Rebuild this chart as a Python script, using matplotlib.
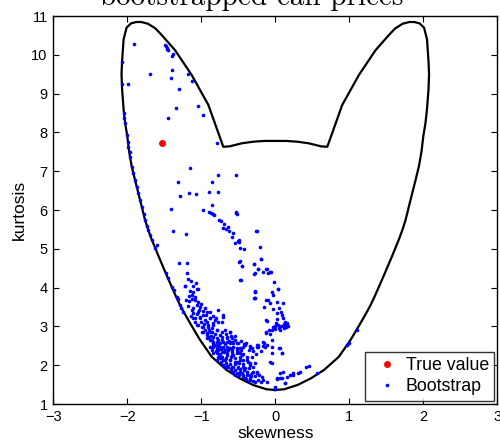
import matplotlib
matplotlib.use('Agg')
import matplotlib.pyplot as plt
import numpy as np

#========================================================================
# dados
#========================================================================

# fronteira (skewness, kurtosis) - curva fechada
boundary = [(0.0, 1.36), (0.12, 1.38), (0.30, 1.49), (0.48, 1.66), (0.66, 1.88), (0.86, 2.22),
            (1.02, 2.66), (1.15, 3.08), (1.24, 3.38), (1.29, 3.56), (1.33, 3.72), (1.40, 4.02),
            (1.48, 4.37), (1.58, 4.82), (1.67, 5.24), (1.72, 5.50), (1.76, 5.74), (1.805, 6.09),
            (1.85, 6.43), (1.895, 6.77), (1.94, 7.12), (1.975, 7.50), (2.00, 7.90), (2.03, 8.25),
            (2.05, 8.60), (2.07, 9.10), (2.078, 9.50), (2.07, 9.85), (2.05, 10.40), (2.01, 10.70),
            (1.95, 10.81), (1.88, 10.845), (1.81, 10.845), (1.72, 10.80), (1.62, 10.68), (1.535, 10.51),
            (1.355, 10.12), (1.13, 9.48), (0.905, 8.71), (0.703, 7.63), (0.62, 7.64), (0.45, 7.72),
            (0.30, 7.76), (0.15, 7.78), (0.0, 7.78),
            (-0.15, 7.78), (-0.30, 7.76), (-0.45, 7.72), (-0.62, 7.64), (-0.703, 7.63), (-0.905, 8.71),
            (-1.13, 9.48), (-1.355, 10.12), (-1.535, 10.51), (-1.62, 10.68), (-1.72, 10.80), (-1.81, 10.845),
            (-1.88, 10.845), (-1.95, 10.81), (-2.01, 10.70), (-2.05, 10.40), (-2.07, 9.85), (-2.078, 9.50),
            (-2.07, 9.10), (-2.05, 8.60), (-2.03, 8.25), (-2.00, 7.90), (-1.975, 7.50), (-1.94, 7.12),
            (-1.895, 6.77), (-1.85, 6.43), (-1.805, 6.09), (-1.76, 5.74), (-1.72, 5.50), (-1.67, 5.24),
            (-1.58, 4.82), (-1.48, 4.37), (-1.40, 4.02), (-1.33, 3.72), (-1.29, 3.56), (-1.24, 3.38),
            (-1.15, 3.08), (-1.02, 2.66), (-0.86, 2.22), (-0.66, 1.88), (-0.48, 1.66), (-0.30, 1.49),
            (-0.12, 1.38), (0.0, 1.36)]

true_value = (-1.527, 7.72)

# bootstrap - lobulo superior
boot_upper = [(-1.905, 10.28), (-1.49, 10.25), (-1.48, 10.22), (-1.47, 10.18), (-1.46, 10.15), (-1.45, 10.12),
              (-1.378, 10.01), (-1.39, 9.98), (-2.07, 9.82), (-1.693, 9.51), (-1.39, 9.62), (-1.413, 9.39),
              (-1.176, 9.51), (-1.12, 9.33), (-2.076, 9.24), (-1.986, 9.24), (-1.30, 9.13), (-1.346, 8.62),
              (-1.045, 8.67), (-0.973, 8.44), (-1.454, 8.36), (-0.788, 7.73)]

# bootstrap - sobre a borda esquerda
boot_edge = [(-2.04, 8.49), (-2.045, 8.36), (-2.03, 8.23), (-2.01, 7.93), (-1.995, 7.76), (-1.986, 7.63),
             (-1.97, 7.50), (-1.96, 7.36), (-1.94, 7.12), (-1.92, 6.95), (-1.896, 6.77), (-1.87, 6.60),
             (-1.85, 6.43), (-1.83, 6.25), (-1.805, 6.09), (-1.78, 5.90), (-1.76, 5.74), (-1.74, 5.60),
             (-1.716, 5.48), (-1.69, 5.35), (-1.67, 5.23), (-1.63, 5.02), (-1.60, 5.10), (-1.477, 4.37),
             (-1.45, 4.25), (-1.40, 4.02), (-1.37, 3.93), (-1.332, 3.77), (-1.31, 3.70), (-1.288, 3.55),
             (-1.27, 3.48), (-1.243, 3.38)]

# bootstrap - regiao do meio
boot_middle = [(-1.149, 7.07), (-0.77, 6.89), (-0.531, 6.89), (-1.31, 6.71), (-0.851, 6.71), (-1.162, 6.44),
               (-1.076, 6.40), (-1.292, 6.37), (-0.892, 6.46), (-0.778, 6.46), (-0.851, 6.14), (-1.405, 6.03),
               (-0.973, 5.99), (-0.892, 5.94), (-0.869, 5.92), (-0.846, 5.89), (-0.824, 5.86), (-0.527, 5.92),
               (-0.535, 5.94), (-0.52, 5.90), (-0.765, 5.75), (-0.738, 5.71), (-0.689, 5.64), (-0.643, 5.55),
               (-0.703, 5.54), (-0.666, 5.50), (-0.622, 5.47), (-0.576, 5.41), (-0.585, 5.30), (-0.504, 5.20),
               (-0.486, 5.18), (-0.549, 5.15), (-0.495, 5.22), (-0.257, 5.47), (-0.207, 5.05), (-0.419, 4.99),
               (-1.382, 5.45), (-1.21, 5.39), (-0.193, 4.74), (-0.481, 4.69), (-0.45, 4.56), (-0.284, 4.61),
               (-0.238, 4.49), (-0.126, 4.47), (-0.072, 4.41), (-0.17, 4.40), (-0.288, 4.34), (-0.473, 4.20),
               (-0.018, 4.15), (0.04, 3.96), (-1.301, 4.63), (-1.189, 4.64), (-1.189, 4.38), (-1.176, 4.22),
               (-1.135, 4.17), (-1.076, 4.11), (-1.22, 4.03), (-1.116, 4.03), (-1.04, 3.97),
               (-0.477, 5.01), (-0.49, 4.67), (-0.25, 5.47), (-0.19, 4.74), (-0.29, 4.60), (-0.27, 4.37),
               (-0.10, 4.38), (-0.28, 3.72), (-0.12, 3.68), (-0.12, 3.16), (-0.13, 2.82), (-0.23, 2.48)]

# bootstrap - coluna perto de skewness 0
boot_column = [(-0.454, 4.56), (-0.23, 4.48), (-0.116, 4.47), (-0.062, 4.39), (-0.468, 4.20), (0.041, 3.96),
               (-0.274, 3.88), (-0.27, 3.90), (-0.049, 3.88), (-0.035, 3.81), (-0.288, 3.72), (-0.103, 3.68),
               (-0.072, 3.61), (0.027, 3.64), (0.10, 3.61), (-0.153, 3.51), (-0.027, 3.44), (0.054, 3.47),
               (0.073, 3.38), (0.027, 3.34), (0.086, 3.29), (0.108, 3.21), (0.018, 3.18), (-0.116, 3.14),
               (0.131, 3.12), (0.162, 3.08), (0.176, 3.01), (0.009, 3.10), (0.041, 3.04), (-0.027, 2.99),
               (0.10, 3.01), (-0.004, 2.93), (-0.049, 2.91), (-0.081, 2.91), (0.063, 2.91), (0.118, 2.95),
               (-0.126, 2.86), (-0.072, 2.80), (-0.04, 2.65), (-0.153, 2.58), (-0.108, 2.52), (-0.419, 2.55),
               (-0.342, 2.49), (-0.251, 2.52), (0.054, 2.44), (-0.049, 2.46), (0.14, 3.05), (0.15, 2.98),
               (0.12, 3.06), (0.08, 3.00), (0.16, 3.02), (0.0, 3.00), (0.05, 2.97), (0.13, 2.99)]

# bootstrap - faixa densa (parte de cima)
boot_band_top = [(-1.22, 4.04), (-1.153, 3.91), (-1.108, 3.89), (-1.054, 3.96), (-1.12, 3.81), (-1.085, 3.68),
                 (-1.162, 3.65), (-1.062, 3.55), (-1.018, 3.51), (-0.95, 3.47), (-1.027, 3.42), (-0.927, 3.38),
                 (-1.108, 3.34), (-1.054, 3.31), (-0.973, 3.29), (-0.77, 3.42), (-0.703, 3.29), (-0.882, 3.21),
                 (-1.018, 3.21), (-1.116, 3.21), (-0.927, 3.12), (-0.815, 3.16), (-1.062, 3.04), (-0.995, 2.99),
                 (-0.905, 2.99), (-0.724, 3.12), (-0.838, 3.04), (-0.973, 2.86), (-0.882, 2.86), (-0.792, 2.91),
                 (-0.68, 2.91), (-0.612, 2.86), (-0.927, 2.78), (-0.838, 2.73), (-0.747, 2.78), (-0.657, 2.73),
                 (-0.589, 2.69), (-0.882, 2.65), (-0.792, 2.61), (-0.703, 2.61), (-0.612, 2.56), (-0.522, 2.56),
                 (-0.838, 2.52), (-0.747, 2.48), (-0.657, 2.48), (-0.568, 2.48), (-0.477, 2.44), (-0.77, 2.39),
                 (-0.68, 2.39), (-0.589, 2.39), (-0.50, 2.35), (-0.409, 2.52), (-0.342, 2.48), (-0.251, 2.48),
                 (-0.274, 3.89), (-0.274, 3.72), (-1.207, 3.68), (-1.176, 3.53), (-1.108, 3.47)]

# bootstrap - faixa densa (parte de baixo)
boot_band_low = [(-0.838, 2.61), (-0.747, 2.56), (-0.657, 2.61), (-0.568, 2.56), (-0.882, 2.48), (-0.792, 2.44),
                 (-0.703, 2.44), (-0.612, 2.44), (-0.522, 2.44), (-0.838, 2.31), (-0.747, 2.26), (-0.657, 2.26),
                 (-0.568, 2.26), (-0.477, 2.31), (-0.792, 2.13), (-0.703, 2.13), (-0.612, 2.13), (-0.522, 2.09),
                 (-0.432, 2.13), (-0.342, 2.05), (-0.68, 1.96), (-0.589, 1.96), (-0.50, 1.96), (-0.409, 1.92),
                 (-0.568, 1.83), (-0.477, 1.83), (-0.386, 1.83), (-0.297, 1.83), (-0.432, 1.70), (-0.342, 1.75),
                 (-0.251, 1.79), (-0.184, 1.70), (-0.342, 1.62), (-0.274, 1.57), (-0.162, 1.62), (-0.116, 1.57),
                 (0.018, 1.64), (0.086, 1.66), (0.154, 1.70), (0.131, 1.53), (-0.004, 1.38), (-0.23, 2.52),
                 (-0.139, 2.48), (-0.162, 2.61), (0.086, 2.31), (-0.049, 2.06), (0.063, 1.79), (0.243, 1.75),
                 (0.311, 1.79),
                 (-1.085, 3.21), (-1.018, 3.25), (-0.95, 3.16), (-0.882, 3.22), (-1.04, 3.04), (-0.973, 2.99),
                 (-0.905, 3.04), (-0.838, 3.08), (-0.77, 3.12), (-0.703, 3.25), (-0.995, 2.86), (-0.927, 2.82),
                 (-0.86, 2.86), (-0.792, 2.91), (-0.724, 2.86), (-0.612, 2.86), (-0.927, 2.69), (-0.86, 2.65),
                 (-0.792, 2.69), (-0.724, 2.65), (-0.657, 2.69), (-0.589, 2.61), (-0.50, 2.56), (-0.838, 2.48),
                 (-0.77, 2.52), (-0.703, 2.48), (-0.635, 2.44), (-0.568, 2.48), (-0.432, 2.48), (-0.319, 2.44),
                 (-0.792, 2.31), (-0.724, 2.35), (-0.657, 2.31), (-0.589, 2.26), (-0.522, 2.31), (-0.454, 2.26),
                 (-0.747, 2.18), (-0.68, 2.13), (-0.612, 2.13), (-0.545, 2.09), (-0.477, 2.13), (-0.386, 2.13),
                 (-0.703, 2.01), (-0.635, 1.96), (-0.568, 1.96), (-0.50, 1.92), (-0.432, 1.96), (-0.342, 2.01),
                 (-0.274, 2.05), (-0.589, 1.83), (-0.522, 1.79), (-0.454, 1.79), (-0.386, 1.83), (-0.319, 1.79),
                 (-0.251, 1.83), (-0.409, 1.68), (-0.342, 1.66)]

# bootstrap - pontos extras no miolo da faixa densa
boot_band_fill = [(-0.98, 3.40), (-0.93, 3.30), (-1.00, 3.12), (-0.96, 3.05), (-0.90, 2.92), (-0.85, 2.95),
                  (-0.95, 2.92), (-0.87, 2.76), (-0.81, 2.80), (-0.90, 2.72), (-0.84, 2.58), (-0.78, 2.66),
                  (-0.72, 2.72), (-0.81, 2.53), (-0.86, 2.40), (-0.80, 2.36), (-0.74, 2.42), (-0.68, 2.54),
                  (-0.62, 2.62), (-0.55, 2.66), (-0.76, 2.30), (-0.70, 2.35), (-0.64, 2.38), (-0.58, 2.34),
                  (-0.52, 2.38), (-0.46, 2.40), (-0.78, 2.20), (-0.72, 2.22), (-0.66, 2.18), (-0.60, 2.20),
                  (-0.54, 2.18), (-0.48, 2.21), (-0.44, 2.30), (-0.73, 2.08), (-0.67, 2.06), (-0.61, 2.04),
                  (-0.55, 2.02), (-0.49, 2.05), (-0.43, 2.04), (-0.37, 2.07), (-0.65, 1.99), (-0.60, 1.90),
                  (-0.54, 1.88), (-0.48, 1.90), (-0.42, 1.87), (-0.36, 1.92), (-0.30, 1.95), (-0.55, 1.76),
                  (-0.49, 1.74), (-0.44, 1.75), (-0.38, 1.74), (-0.33, 1.72), (-0.27, 1.73), (-0.22, 1.76),
                  (-0.40, 1.64), (-0.36, 1.60), (-0.30, 1.58), (-0.24, 1.62), (-0.20, 1.56), (-1.12, 3.70),
                  (-1.16, 3.78), (-1.08, 3.76), (-1.04, 3.62), (-1.00, 3.58), (-1.13, 3.43), (-1.05, 3.38),
                  (-1.09, 3.12), (-1.14, 3.28), (-0.88, 3.36), (-0.84, 3.28), (-0.80, 3.22), (-0.66, 2.80),
                  (-0.60, 2.74), (-0.54, 2.76), (-0.46, 2.62), (-0.40, 2.58), (-0.36, 2.40), (-0.30, 2.36),
                  (-0.38, 2.22), (-0.31, 2.20), (-0.26, 2.28), (-0.20, 2.36)]

# bootstrap - pontos soltos embaixo / direita
boot_right = [(0.20, 1.75), (0.24, 1.79), (0.42, 1.96), (0.45, 1.99), (0.57, 1.80), (0.965, 2.52), (0.99, 2.56),
              (1.11, 2.91), (-0.07, 2.09), (-0.05, 2.31), (0.06, 2.44), (0.09, 2.31), (-0.16, 2.49), (0.0, 1.45),
              (0.13, 1.53), (0.11, 1.83), (0.02, 1.66), (0.06, 1.66), (0.33, 1.83)]

#========================================================================
# grafico
#========================================================================
plt.rcParams['font.family'] = 'Liberation Sans'

fig = plt.figure(figsize=(5, 4.41), dpi=100)
ax = fig.add_axes([0.1066, 0.0839, 0.8880, 0.8798])

bnd = np.array(boundary)
ax.plot(bnd[:, 0], bnd[:, 1], color='black', linewidth=1.6, solid_joinstyle='round')

ax.plot([true_value[0]], [true_value[1]], 'o', color='red', markersize=5.0,
        markeredgewidth=0, label='True value')

boot = np.array(boot_upper + boot_edge + boot_middle + boot_column + boot_band_top +
                boot_band_low + boot_band_fill + boot_right)
ax.plot(boot[:, 0], boot[:, 1], 'o', color='blue', markersize=2.6,
        markeredgewidth=0, linestyle='none', label='Bootstrap')

ax.set_xlim(-3, 3)
ax.set_ylim(1, 11)
ax.set_xticks(range(-3, 4))
ax.set_yticks(range(1, 12))
ax.tick_params(direction='in', top=True, right=True, length=4, width=0.8, labelsize=10.5)
ax.tick_params(axis='x', pad=4.5)
ax.tick_params(axis='y', pad=4)
for sp in ax.spines.values():
    sp.set_linewidth(1.0)

ax.set_xlabel('skewness', fontsize=12.5, labelpad=1)
ax.set_ylabel('kurtosis', fontsize=12.5, labelpad=3)

leg = ax.legend(loc='lower right', fontsize=12.8, frameon=True, fancybox=False,
                borderaxespad=0.18, handlelength=1.9, handletextpad=0.1,
                borderpad=0.3, labelspacing=0.25)
leg.get_frame().set_edgecolor('black')
leg.get_frame().set_linewidth(1.0)

fig.text(0.503, 0.989, 'bootstrapped call prices', fontname='cmr10', fontsize=21,
         ha='center', va='baseline')

plt.savefig('out.png', dpi=100)
